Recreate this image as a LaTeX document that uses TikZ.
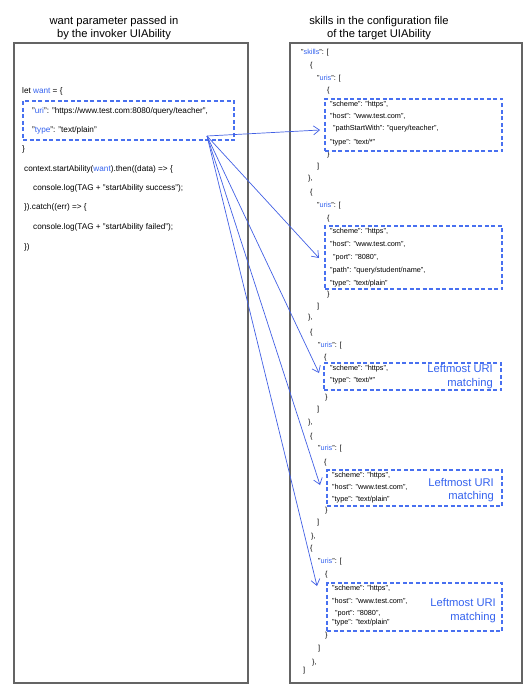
\documentclass[tikz,border=0pt]{standalone}
\usepackage{fontspec}
\setmainfont{Liberation Sans}
\usetikzlibrary{arrows.meta}
\definecolor{keyblue}{RGB}{52,98,238}
\definecolor{boxblue}{RGB}{72,112,240}
\definecolor{arrowblue}{RGB}{66,96,228}
\definecolor{framegray}{RGB}{100,100,100}
\newcommand{\kw}[1]{\textcolor{keyblue}{#1}}

\begin{document}
\begin{tikzpicture}[x=1pt,y=-1pt,
    frame/.style={draw=framegray, line width=1.6pt},
    title/.style={align=center, inner sep=0pt, font=\fontsize{11.2}{13}\selectfont},
    lcode/.style={anchor=west, inner sep=0pt, text height=6pt, text depth=1.6pt, font=\fontsize{8.2}{9}\selectfont},
    rcode/.style={anchor=west, inner sep=0pt, text height=5.4pt, text depth=1.5pt, font=\fontsize{7.3}{8}\selectfont},
    urlbox/.style={draw=boxblue, line width=1.2pt, dash pattern=on 4pt off 2.5pt, inner sep=0pt},
    note/.style={anchor=east, align=right, inner sep=0pt, text=keyblue, font=\fontsize{11.2}{13.5}\selectfont},
    link/.style={draw=arrowblue, line width=0.7pt, -{Straight Barb[length=6pt,width=9pt]}}]
  \useasboundingbox (0,0) rectangle (532,690);
  % the two panels
  \draw[frame] (14,43) rectangle (248,683);
  \draw[frame] (290,43) rectangle (522,683);
  \node[title] (lefttitle) at (114,28) {want parameter passed in\\by the invoker UIAbility};
  \node[title] (righttitle) at (379,28) {skills in the configuration file\\of the target UIAbility};

  % caller code
  \node[lcode] (c1) at (22,91) {let \kw{want} = \{};
  \node[lcode] (c2) at (32,111) {"\kw{uri}": "https://www.test.com:8080/query/teacher",};
  \node[lcode] (c3) at (32,130) {"\kw{type}": "text/plain"};
  \node[lcode] (c4) at (22,149) {\}};
  \node[lcode] (c5) at (24,169) {context.startAbility(\kw{want}).then((data) => \{};
  \node[lcode] (c6) at (33,188) {console.log(TAG + "startAbility success");};
  \node[lcode] (c7) at (24,207) {\}).catch((err) => \{};
  \node[lcode] (c8) at (33,227) {console.log(TAG + "startAbility failed");};
  \node[lcode] (c9) at (24,247) {\})};
  \node[urlbox, minimum width=211, minimum height=39] (want) at (128.5,120.5) {};

  % skills of the target
  \node[rcode] (s1) at (301,53) {"\kw{skills}": [};
  \node[rcode] (s2) at (310,66) {\{};
  \node[rcode] (s3) at (317,79) {"\kw{uris}": [};
  \node[rcode] (s4) at (327,91) {\{};
  \node[rcode] (s5) at (330,105) {"scheme": "https",};
  \node[rcode] (s6) at (330,117) {"host": "www.test.com",};
  \node[rcode] (s7) at (333,129) {"pathStartWith": "query/teacher",};
  \node[rcode] (s8) at (330,143) {"type": "text/*"};
  \node[rcode] (s9) at (327,155) {\}};
  \node[rcode] (s10) at (317,167) {]};
  \node[rcode] (s11) at (308,179) {\},};
  \node[urlbox, minimum width=177, minimum height=52] (u1) at (413.5,125) {};

  \node[rcode] (s12) at (310,193) {\{};
  \node[rcode] (s13) at (317,206) {"\kw{uris}": [};
  \node[rcode] (s14) at (327,219) {\{};
  \node[rcode] (s15) at (330,232) {"scheme": "https",};
  \node[rcode] (s16) at (330,245) {"host": "www.test.com",};
  \node[rcode] (s17) at (333,258) {"port": "8080",};
  \node[rcode] (s18) at (330,271) {"path": "query/student/name",};
  \node[rcode] (s19) at (330,284) {"type": "text/plain"};
  \node[rcode] (s20) at (327,295) {\}};
  \node[rcode] (s21) at (317,307) {]};
  \node[rcode] (s22) at (308,318) {\},};
  \node[urlbox, minimum width=177, minimum height=63] (u2) at (413.5,257.5) {};

  \node[rcode] (s23) at (310,333) {\{};
  \node[rcode] (s24) at (318,346) {"\kw{uris}": [};
  \node[rcode] (s25) at (324,358) {\{};
  \node[rcode] (s26) at (330,369) {"scheme": "https",};
  \node[rcode] (s27) at (330,381) {"type": "text/*"};
  \node[rcode] (s28) at (325,398) {\}};
  \node[rcode] (s29) at (317,410) {]};
  \node[rcode] (s30) at (308,423) {\},};
  \node[urlbox, minimum width=177, minimum height=27] (u3) at (412.5,376.5) {};
  \node[note] (n3) at (493,376.5) {Leftmost URI\\matching};

  \node[rcode] (s31) at (310,437) {\{};
  \node[rcode] (s32) at (318,449) {"\kw{uris}": [};
  \node[rcode] (s33) at (324,463) {\{};
  \node[rcode] (s34) at (332,476) {"scheme": "https",};
  \node[rcode] (s35) at (332,488) {"host": "www.test.com",};
  \node[rcode] (s36) at (332,500) {"type": "text/plain"};
  \node[rcode] (s37) at (325,511) {\}};
  \node[rcode] (s38) at (317,523) {]};
  \node[rcode] (s39) at (311,537) {\},};
  \node[urlbox, minimum width=175, minimum height=36] (u4) at (414.5,488) {};
  \node[note] (n4) at (494,490) {Leftmost URI\\matching};

  \node[rcode] (s40) at (310,549) {\{};
  \node[rcode] (s41) at (318,562) {"\kw{uris}": [};
  \node[rcode] (s42) at (325,575) {\{};
  \node[rcode] (s43) at (332,589) {"scheme": "https",};
  \node[rcode] (s44) at (332,602) {"host": "www.test.com",};
  \node[rcode] (s45) at (335,614) {"port": "8080",};
  \node[rcode] (s46) at (332,623) {"type": "text/plain"};
  \node[rcode] (s47) at (325,636) {\}};
  \node[rcode] (s48) at (318,649) {]};
  \node[rcode] (s49) at (312,663) {\},};
  \node[rcode] (s50) at (303,671) {]};
  \node[urlbox, minimum width=175, minimum height=48] (u5) at (414.5,607) {};
  \node[note] (n5) at (496,610.5) {Leftmost URI\\matching};

  % matching arrows
  \coordinate (src) at (207,136);
  \coordinate (t1) at (320,130);
  \coordinate (t2) at (319,258);
  \coordinate (t3) at (319,373);
  \coordinate (t4) at (320,485);
  \coordinate (t5) at (317,586);
  \foreach \t in {t1,t2,t3,t4,t5}
    \draw[link] (src) -- (\t);
\end{tikzpicture}
\end{document}
